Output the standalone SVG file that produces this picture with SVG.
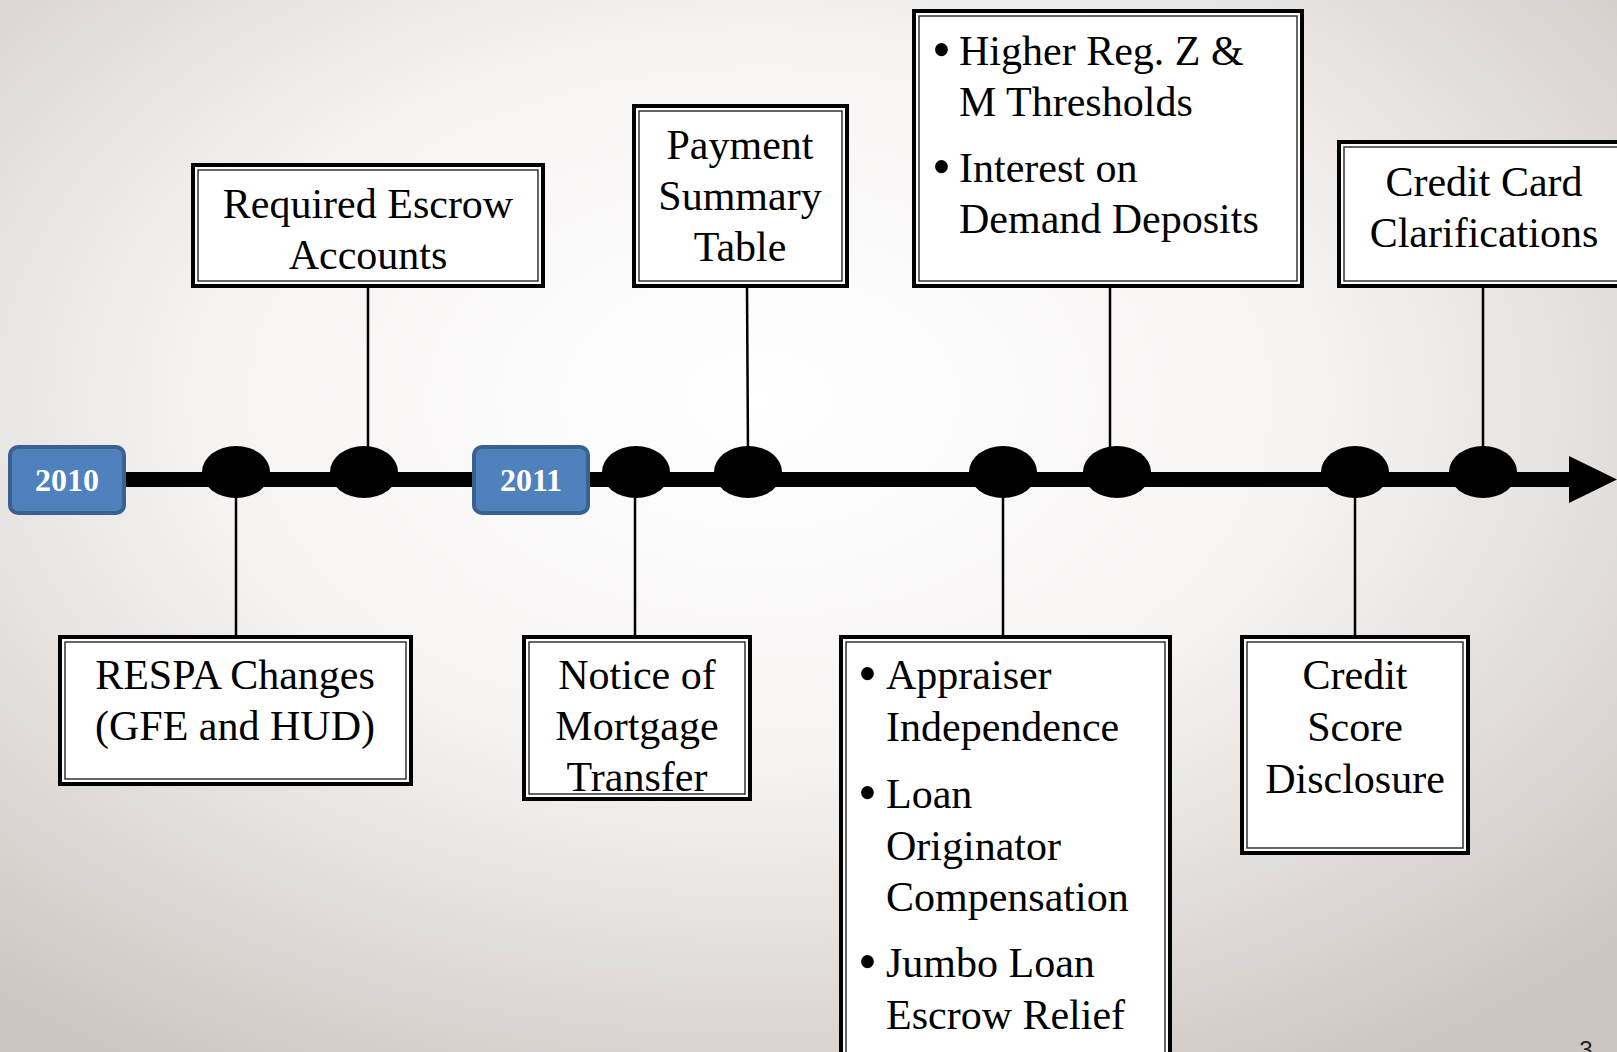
<svg xmlns="http://www.w3.org/2000/svg" width="1617" height="1052" viewBox="0 0 1617 1052">
<defs>
<radialGradient id="bg" cx="0.47" cy="0.38" r="0.75">
<stop offset="0" stop-color="#ffffff"/>
<stop offset="0.45" stop-color="#f6f4f3"/>
<stop offset="1" stop-color="#cbc5c1"/>
</radialGradient>
<style>
.outer{fill:#ffffff;stroke:#000;stroke-width:4}
.inner{fill:none;stroke:#333;stroke-width:1.5}
.t{font-family:"Liberation Serif","Times New Roman",serif;font-size:42px;fill:#000}
.b{font-family:"Liberation Serif","Times New Roman",serif;font-size:54px;fill:#000}
.c{text-anchor:middle}
.yr{fill:#4f81bd;stroke:#3a6191;stroke-width:4}
.yt{font-family:"Liberation Serif","Times New Roman",serif;font-size:32px;font-weight:bold;fill:#fff;text-anchor:middle}
.conn{stroke:#000;stroke-width:2.5;fill:none}
.dot{fill:#000}
</style>
</defs>
<rect x="0" y="0" width="1617" height="1052" fill="url(#bg)"/>

<g id="connectors">
<line x1="110" y1="479.5" x2="1575" y2="479.5" stroke="#000" stroke-width="15"/>
<polygon points="1569,456 1617,479.5 1569,503" fill="#000"/>
<line class="conn" x1="236" y1="490" x2="236" y2="637"/>
<line class="conn" x1="368" y1="287" x2="368" y2="455"/>
<line class="conn" x1="635" y1="490" x2="635" y2="637"/>
<line class="conn" x1="747" y1="287" x2="748" y2="455"/>
<line class="conn" x1="1003" y1="490" x2="1003" y2="637"/>
<line class="conn" x1="1110" y1="287" x2="1110" y2="455"/>
<line class="conn" x1="1355" y1="490" x2="1355" y2="637"/>
<line class="conn" x1="1483" y1="287" x2="1483" y2="455"/>
<ellipse class="dot" cx="236" cy="472" rx="34" ry="26"/>
<ellipse class="dot" cx="364" cy="472" rx="34" ry="26"/>
<ellipse class="dot" cx="636" cy="472" rx="34" ry="26"/>
<ellipse class="dot" cx="748" cy="472" rx="34" ry="26"/>
<ellipse class="dot" cx="1003" cy="472" rx="34" ry="26"/>
<ellipse class="dot" cx="1117" cy="472" rx="34" ry="26"/>
<ellipse class="dot" cx="1355" cy="472" rx="34" ry="26"/>
<ellipse class="dot" cx="1483" cy="472" rx="34" ry="26"/>
</g>

<g id="y2010">
<rect class="yr" x="10" y="447" width="114" height="66" rx="8"/>
<text class="yt" x="67" y="491">2010</text>
</g>
<g id="y2011">
<rect class="yr" x="474" y="447" width="114" height="66" rx="8"/>
<text class="yt" x="531" y="491">2011</text>
</g>

<g id="escrow">
<rect class="outer" x="193" y="165" width="350" height="121"/>
<rect class="inner" x="198" y="170" width="340" height="111"/>
<text class="t c" x="368" y="218">Required Escrow</text>
<text class="t c" x="368" y="269">Accounts</text>
</g>

<g id="payment">
<rect class="outer" x="634" y="106" width="213" height="180"/>
<rect class="inner" x="639" y="111" width="203" height="170"/>
<text class="t c" x="740" y="159">Payment</text>
<text class="t c" x="740" y="210">Summary</text>
<text class="t c" x="740" y="261">Table</text>
</g>

<g id="regz">
<rect class="outer" x="914" y="11" width="388" height="275"/>
<rect class="inner" x="919" y="16" width="378" height="265"/>
<text class="b" x="932" y="68">•</text>
<text class="t" x="959" y="65">Higher Reg. Z &amp;</text>
<text class="t" x="959" y="116">M Thresholds</text>
<text class="b" x="932" y="185">•</text>
<text class="t" x="959" y="182">Interest on</text>
<text class="t" x="959" y="233">Demand Deposits</text>
</g>

<g id="creditcard">
<rect class="outer" x="1339" y="142" width="290" height="144"/>
<rect class="inner" x="1344" y="147" width="290" height="134"/>
<text class="t c" x="1484" y="196">Credit Card</text>
<text class="t c" x="1484" y="247">Clarifications</text>
</g>

<g id="respa">
<rect class="outer" x="60" y="637" width="351" height="147"/>
<rect class="inner" x="65" y="642" width="341" height="137"/>
<text class="t c" x="235" y="689">RESPA Changes</text>
<text class="t c" x="235" y="740">(GFE and HUD)</text>
</g>

<g id="notice">
<rect class="outer" x="524" y="637" width="226" height="162"/>
<rect class="inner" x="529" y="642" width="216" height="152"/>
<text class="t c" x="637" y="689">Notice of</text>
<text class="t c" x="637" y="740">Mortgage</text>
<text class="t c" x="637" y="791">Transfer</text>
</g>

<g id="appraiser">
<rect class="outer" x="841" y="637" width="329" height="430"/>
<rect class="inner" x="846" y="642" width="319" height="420"/>
<text class="b" x="858" y="692">•</text>
<text class="t" x="886" y="689">Appraiser</text>
<text class="t" x="886" y="741">Independence</text>
<text class="b" x="858" y="811">•</text>
<text class="t" x="886" y="808">Loan</text>
<text class="t" x="886" y="860">Originator</text>
<text class="t" x="886" y="911">Compensation</text>
<text class="b" x="858" y="980">•</text>
<text class="t" x="886" y="977">Jumbo Loan</text>
<text class="t" x="886" y="1029">Escrow Relief</text>
</g>

<g id="creditscore">
<rect class="outer" x="1242" y="637" width="226" height="216"/>
<rect class="inner" x="1247" y="642" width="216" height="206"/>
<text class="t c" x="1355" y="689">Credit</text>
<text class="t c" x="1355" y="741">Score</text>
<text class="t c" x="1355" y="793">Disclosure</text>
</g>

<text x="1586" y="1058" font-family="Liberation Sans, Arial, sans-serif" font-size="24" fill="#222" text-anchor="middle">3</text>
</svg>
